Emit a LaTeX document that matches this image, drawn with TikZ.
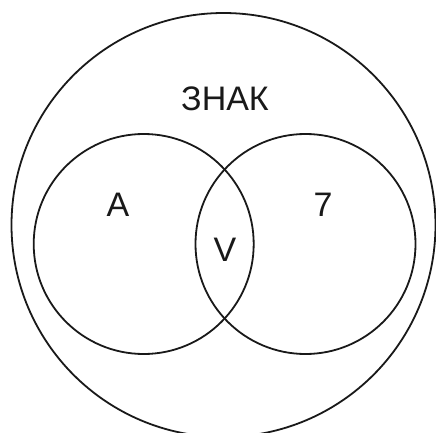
\documentclass[tikz,border=0pt]{standalone}
\usepackage{fontspec}
\setmainfont{Liberation Sans}
\begin{document}
\begin{tikzpicture}[x=1pt,y=-1pt,
  ring/.style={draw=black!90,line width=1.8pt,circle,inner sep=0pt},
  lbl/.style={font=\fontsize{34}{34}\selectfont,text=black!90,inner sep=0pt,anchor=base}]
\useasboundingbox (0,0) rectangle (436,433);
\node[ring,minimum size=424pt] (outer) at (223.5,225) {};
\node[ring,minimum size=220pt] (left) at (143.7,244) {};
\node[ring,minimum size=220pt] (right) at (305.5,244) {};
\node[lbl] (znak) at (225,110.5) {ЗНАК};
\node[lbl] (a) at (118,216.5) {А};
\node[lbl] (seven) at (323,216.5) {7};
\node[lbl] (v) at (225,261) {V};
\end{tikzpicture}
\end{document}
